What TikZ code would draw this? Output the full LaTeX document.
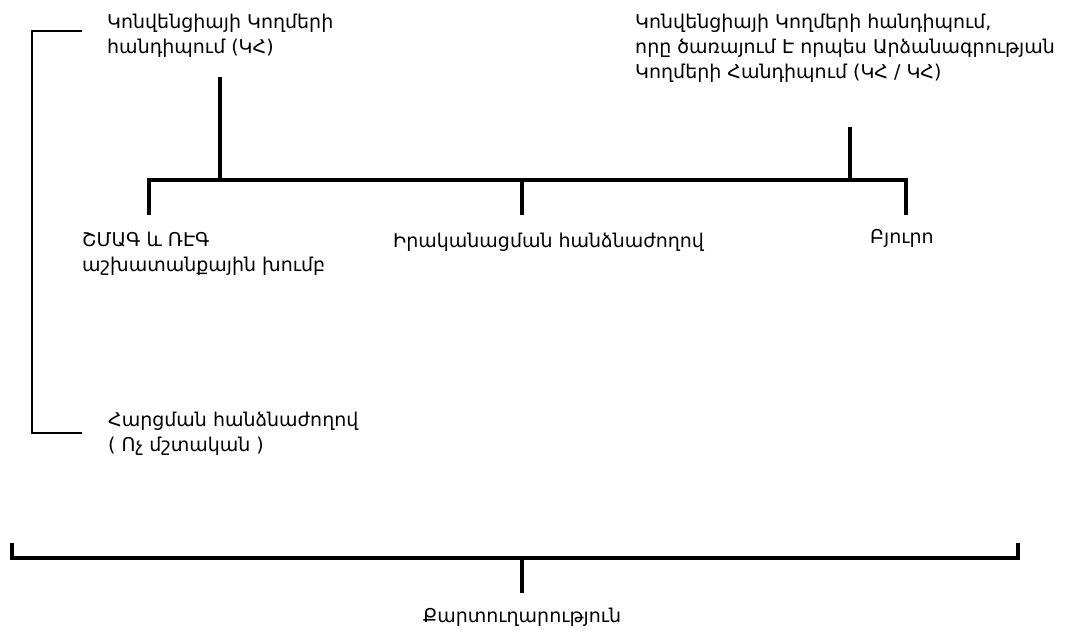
\documentclass[tikz,border=0pt]{standalone}
\usepackage{fontspec}
\setmainfont{DejaVu Sans}
\usetikzlibrary{positioning}
\tikzstyle{txt} = [inner sep=0pt, align=left, anchor=base west, font=\fontsize{19}{25}\selectfont]
\tikzstyle{thinline} = [draw, line width=1.6pt]
\tikzstyle{thickline} = [draw, line width=4pt]

\begin{document}
\begin{tikzpicture}[x=1pt, y=-1pt]
	\useasboundingbox (0,0) rectangle (1067,633);
	\node [txt] (cop) at (107,53) {Կոնվենցիայի Կողմերի\\հանդիպում (ԿՀ)};
	\node [txt] (copmop) at (635,78) {Կոնվենցիայի Կողմերի հանդիպում,\\որը ծառայում Է որպես Արձանագրության\\Կողմերի Հանդիպում (ԿՀ / ԿՀ)};
	\node [txt] (wg) at (82,271) {ՇՄԱԳ և ՌԷԳ\\աշխատանքային խումբ};
	\node [txt] (ic) at (393,247) {Իրականացման հանձնաժողով};
	\node [txt] (bu) at (870,243) {Բյուրո};
	\node [txt] (inq) at (108,451) {Հարցման հանձնաժողով\\( Ոչ մշտական )};
	\node [txt, anchor=base] (sec) at (522,622) {Քարտուղարություն};
	
	\coordinate (cop-end) at (220,77);
	\coordinate (copmop-end) at (850,127);
	\coordinate (bar) at (522,180);
	\coordinate (wg-end) at (149,215);
	\coordinate (ic-end) at (522,215);
	\coordinate (bu-end) at (906,215);
	\coordinate (lb-top) at (82,31);
	\coordinate (lb-corner) at (32,31);
	\coordinate (lb-bot) at (82,433);
	\coordinate (sec-l) at (12,543);
	\coordinate (sec-r) at (1018,543);
	\coordinate (sec-bar) at (522,558);
	\coordinate (sec-end) at (522,593);
	
	\path [thickline] (wg-end) |- (bar) -| (bu-end);
	\path [thickline] (ic-end) -- (bar);
	\path [thickline] (cop-end) -- (cop-end |- bar);
	\path [thickline] (copmop-end) -- (copmop-end |- bar);
	\path [thinline] (lb-top) -- (lb-corner) |- (lb-bot);
	\path [thickline] (sec-l) |- (sec-bar) -| (sec-r);
	\path [thickline] (sec-bar) -- (sec-end);
\end{tikzpicture}
\end{document}
